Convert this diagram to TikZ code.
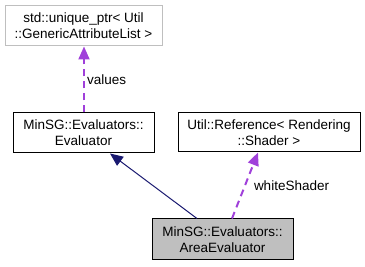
\documentclass[tikz,border=0pt]{standalone}
\usepackage{fontspec}
\setmainfont{Liberation Sans}
\usetikzlibrary{arrows.meta}
\definecolor{edgepurple}{HTML}{A040DA}
\definecolor{edgenavy}{HTML}{191970}
\definecolor{boxgrey}{HTML}{BFBFBF}
\begin{document}
\begin{tikzpicture}[x=1pt,y=-1pt,
  classbox/.style={draw=black, line width=1pt, fill=white, inner sep=0pt,
    align=center, font=\fontsize{13.5}{16}\selectfont},
  extbox/.style={classbox, draw=boxgrey},
  curbox/.style={classbox, fill=boxgrey},
  inherit/.style={draw=edgenavy, line width=1pt,
    -{Triangle[length=13pt,width=11pt,fill=edgenavy]}},
  usage/.style={draw=edgepurple, line width=2pt, dash pattern=on 7pt off 5pt,
    -{Triangle[length=13pt,width=11pt,fill=edgepurple]}},
  elabel/.style={font=\fontsize{13.5}{16}\selectfont, inner sep=2pt}]
\useasboundingbox (0,0) rectangle (365,267);

\node[extbox, minimum width=157pt, minimum height=40pt] (uptr) at (83.5,26)
  {std::unique\_ptr< Util\\::GenericAttributeList >};
\node[classbox, minimum width=141pt, minimum height=40pt] (eval) at (83.5,133)
  {MinSG::Evaluators::\\Evaluator};
\node[classbox, minimum width=182pt, minimum height=39pt] (ref) at (269,132.5)
  {Util::Reference< Rendering\\::Shader >};
\node[curbox, minimum width=141pt, minimum height=41pt] (area) at (222.5,239.5)
  {MinSG::Evaluators::\\AreaEvaluator};

\draw[inherit] ([xshift=-25.5pt]area.north) -- ([xshift=26.5pt]eval.south);
\draw[usage] ([xshift=0.5pt]eval.north) -- node[elabel, anchor=west] {values} ([xshift=0.5pt]uptr.south);
\draw[usage] ([xshift=9.5pt]area.north) -- node[elabel, anchor=west, xshift=6pt] {whiteShader} ([xshift=-11pt]ref.south);
\end{tikzpicture}
\end{document}
